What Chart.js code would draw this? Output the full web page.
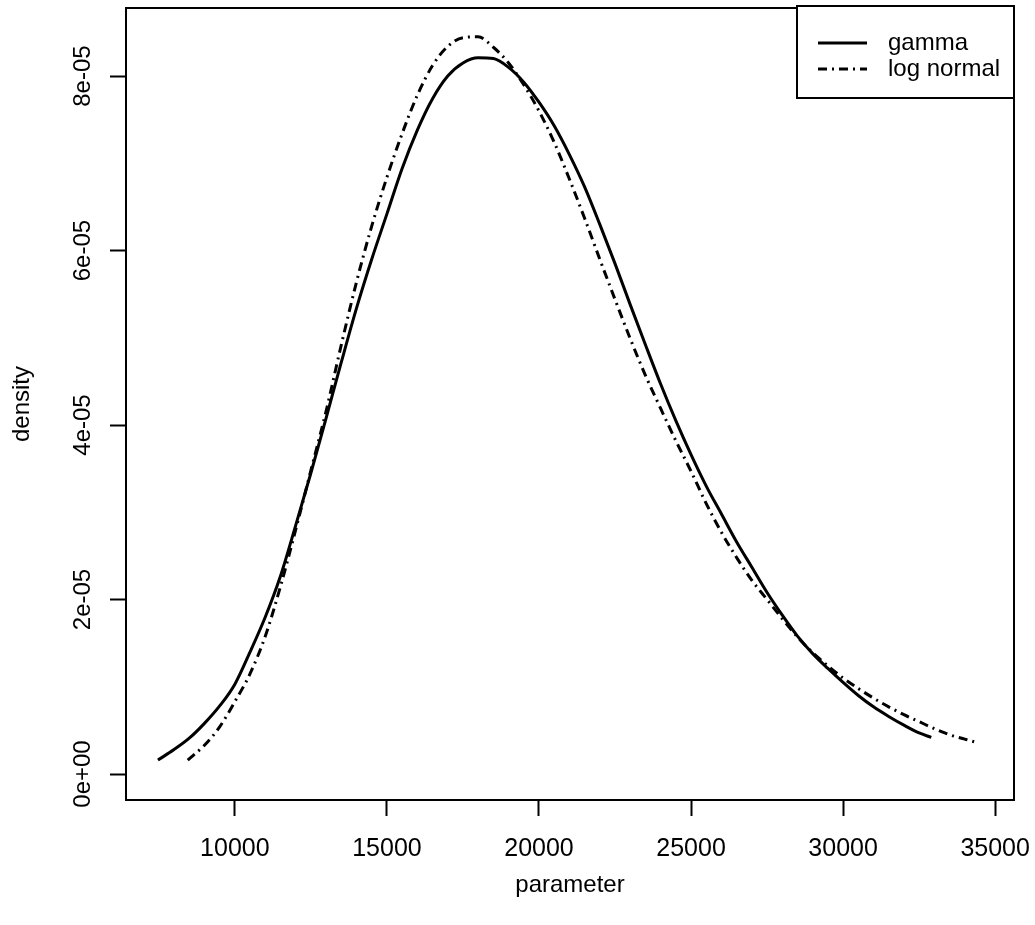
<!DOCTYPE html>
<html>
<head>
<meta charset="utf-8">
<script src="https://cdn.jsdelivr.net/npm/chart.js@4"></script>
<style>
  body { margin: 0; background: #fff; }
  #wrap { width: 1035px; height: 925px; position: relative; }
</style>
</head>
<body>
<div id="wrap"><canvas id="densityChart"></canvas></div>
<script>
// values (density in units of 1e-05)
const gammaX = [7470, 8000, 8500, 9000, 9500, 10000, 10500, 11000, 11500, 12000, 12500, 13000, 13500, 14000,
    14500, 15000, 15500, 16000, 16500, 17000, 17500, 18000, 18500, 19000, 19500, 20000, 20500, 21000, 21500,
    22000, 22500, 23000, 23500, 24000, 24500, 25000, 25500, 26000, 26500, 27000, 27500, 28000, 28500, 29000,
    29500, 30000, 30500, 31000, 31500, 32000, 32500, 32900];
const gammaY = [0.16, 0.28, 0.41, 0.58, 0.78, 1.03, 1.40, 1.80, 2.27, 2.85, 3.45, 4.08, 4.72, 5.34,
    5.90, 6.42, 6.94, 7.38, 7.74, 8.00, 8.15, 8.21, 8.20, 8.10, 7.93, 7.70, 7.43, 7.10, 6.73,
    6.30, 5.85, 5.38, 4.92, 4.47, 4.05, 3.66, 3.30, 2.98, 2.66, 2.37, 2.08, 1.82, 1.58, 1.38,
    1.21, 1.05, 0.90, 0.77, 0.66, 0.56, 0.47, 0.42];

const lognormX = [8450, 9000, 9500, 10000, 10500, 11000, 11500, 12000, 12500, 13000, 13500, 14000, 14500,
    15000, 15500, 16000, 16500, 17000, 17500, 18000, 18500, 19000, 19500, 20000, 20500, 21000, 21500, 22000,
    22500, 23000, 23500, 24000, 24500, 25000, 25500, 26000, 26500, 27000, 27500, 28000, 28500, 29000, 29500,
    30000, 30500, 31000, 31500, 32000, 32500, 33000, 33500, 34000, 34400];
const lognormY = [0.16, 0.33, 0.54, 0.83, 1.15, 1.58, 2.15, 2.80, 3.48, 4.16, 4.92, 5.64, 6.28,
    6.84, 7.34, 7.78, 8.12, 8.34, 8.44, 8.45, 8.33, 8.15, 7.90, 7.60, 7.24, 6.82, 6.37, 5.90,
    5.44, 4.99, 4.57, 4.19, 3.82, 3.47, 3.10, 2.77, 2.48, 2.22, 2.00, 1.78, 1.57, 1.39, 1.24,
    1.10, 0.98, 0.87, 0.77, 0.68, 0.60, 0.52, 0.45, 0.40, 0.36];

const xTicks = [10000, 15000, 20000, 25000, 30000, 35000];
const yTicks = [0, 2e-5, 4e-5, 6e-5, 8e-5];
const yTickLabels = ['0e+00', '2e-05', '4e-05', '6e-05', '8e-05'];

Chart.defaults.font.family = "'Liberation Sans', Arial, sans-serif";
Chart.defaults.color = '#000';

const toPoints = (xs, ys) => xs.map((x, i) => ({ x: x, y: ys[i] * 1e-5 }));

// box round the plot, y tick labels (rotated, like R) and the legend
const rFrame = {
    id: 'rFrame',
    afterDraw(chart) {
        const { ctx, chartArea: a, scales } = chart;
        ctx.save();
        ctx.strokeStyle = '#000';
        ctx.lineWidth = 2;
        ctx.strokeRect(a.left, a.top, a.right - a.left, a.bottom - a.top);

        ctx.fillStyle = '#000';
        ctx.font = "24px 'Liberation Sans', Arial, sans-serif";
        ctx.textAlign = 'center';
        ctx.textBaseline = 'alphabetic';
        yTicks.forEach((v, i) => {
            ctx.save();
            ctx.translate(a.left - 36, scales.y.getPixelForValue(v));
            ctx.rotate(-Math.PI / 2);
            ctx.fillText(yTickLabels[i], 0, 0);
            ctx.restore();
        });

        // legend
        const lx = a.right - 217, ly = a.top - 2;
        ctx.fillStyle = '#fff';
        ctx.fillRect(lx, ly, 217, 92);
        ctx.strokeRect(lx, ly, 217, 92);
        ctx.fillStyle = '#000';
        ctx.textAlign = 'left';
        ctx.textBaseline = 'middle';
        chart.data.datasets.forEach((ds, i) => {
            const y = ly + 37 + i * 26;
            ctx.lineWidth = ds.borderWidth;
            ctx.setLineDash(ds.borderDash || []);
            ctx.beginPath();
            ctx.moveTo(lx + 21, y);
            ctx.lineTo(lx + 70, y);
            ctx.stroke();
            ctx.setLineDash([]);
            ctx.fillText(ds.label, lx + 91, y);
        });
        ctx.restore();
    }
};

new Chart(document.getElementById('densityChart'), {
    type: 'scatter',
    data: {
        datasets: [{
            label: 'gamma',
            data: toPoints(gammaX, gammaY),
            showLine: true,
            borderColor: '#000',
            borderWidth: 3,
            pointRadius: 0,
            cubicInterpolationMode: 'monotone',
        }, {
            label: 'log normal',
            data: toPoints(lognormX, lognormY),
            showLine: true,
            borderColor: '#000',
            borderWidth: 3,
            borderDash: [9, 5, 2, 5],
            pointRadius: 0,
            cubicInterpolationMode: 'monotone',
        }]
    },
    options: {
        responsive: true,
        maintainAspectRatio: false,
        animation: false,
        layout: { padding: { left: 0, top: 8, right: 21, bottom: 0 } },
        plugins: { legend: { display: false }, tooltip: { enabled: false } },
        scales: {
            x: {
                type: 'linear',
                min: 6420,
                max: 35620,
                afterBuildTicks: scale => { scale.ticks = xTicks.map(v => ({ value: v })); },
                afterFit: scale => { scale.height = 125; scale.paddingLeft = 0; scale.paddingRight = 0; },
                border: { display: false },
                grid: { drawOnChartArea: false, tickLength: 16, tickColor: '#000', tickWidth: 2 },
                ticks: { font: { size: 25 }, padding: 18, maxRotation: 0, autoSkip: false, callback: v => String(v) },
                title: { display: true, text: 'parameter', font: { size: 24 }, padding: { bottom: 25 } }
            },
            y: {
                type: 'linear',
                min: -2.98e-6,
                max: 8.78e-5,
                afterBuildTicks: scale => { scale.ticks = yTicks.map(v => ({ value: v })); },
                afterFit: scale => { scale.width = 126; scale.paddingTop = 0; scale.paddingBottom = 0; },
                border: { display: false },
                grid: { drawOnChartArea: false, tickLength: 16, tickColor: '#000', tickWidth: 2 },
                ticks: { display: false },
                title: { display: true, text: 'density', font: { size: 24 }, padding: { top: 8 } }
            }
        }
    },
    plugins: [rFrame]
});
</script>
</body>
</html>
